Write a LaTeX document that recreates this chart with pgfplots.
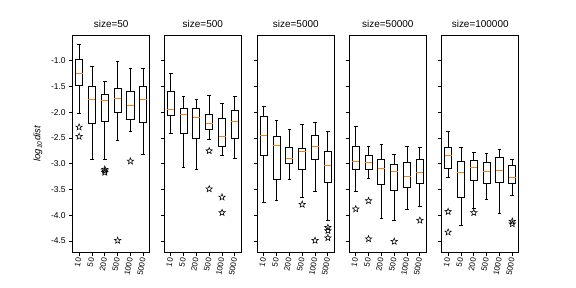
\documentclass[border=0pt]{standalone}
\usepackage{fontspec}
\setmainfont{Liberation Sans}
\usepackage{pgfplots}
\pgfplotsset{compat=1.18}
\usepgfplotslibrary{statistics}
\usetikzlibrary{plotmarks}
\definecolor{mplorange}{HTML}{FF7F0E}
\pgfdeclareplotmark{ostar}{%
  \pgfpathmoveto{\pgfpointpolar{90}{\pgfplotmarksize}}%
  \pgfpathlineto{\pgfpointpolar{126}{0.42\pgfplotmarksize}}%
  \pgfpathlineto{\pgfpointpolar{162}{\pgfplotmarksize}}%
  \pgfpathlineto{\pgfpointpolar{198}{0.42\pgfplotmarksize}}%
  \pgfpathlineto{\pgfpointpolar{234}{\pgfplotmarksize}}%
  \pgfpathlineto{\pgfpointpolar{270}{0.42\pgfplotmarksize}}%
  \pgfpathlineto{\pgfpointpolar{306}{\pgfplotmarksize}}%
  \pgfpathlineto{\pgfpointpolar{342}{0.42\pgfplotmarksize}}%
  \pgfpathlineto{\pgfpointpolar{18}{\pgfplotmarksize}}%
  \pgfpathlineto{\pgfpointpolar{54}{0.42\pgfplotmarksize}}%
  \pgfpathclose
  \pgfusepathqstroke}
\pgfplotsset{
  pan/.style={
    anchor=south west, width=77bp, height=217.3bp, scale only axis,
    xmin=0.5, xmax=6.5, ymin=-4.72, ymax=-0.50,
    xtick={1,2,3,4,5,6}, xticklabels={10,50,200,500,1000,5000},
    ytick={-4.5,-4,-3.5,-3,-2.5,-2,-1.5,-1},
    tick align=outside, xtick pos=bottom, ytick pos=left,
    major tick length=3.5bp,
    axis line style={line width=0.8bp},
    every tick/.style={black, line width=0.8bp},
    xticklabel style={rotate=80, anchor=east, font=\fontsize{8}{9}\selectfont, inner sep=2pt},
    yticklabel style={font=\fontsize{8.5}{10}\selectfont},
    /pgf/number format/assume math mode=true,
    /pgf/number format/fixed, /pgf/number format/fixed zerofill, /pgf/number format/precision=1,
    title style={font=\fontsize{10}{12}\selectfont, yshift=-2bp},
  },
  mybox/.style={black, line width=0.9bp, mark=ostar, mark size=3.4pt,
    mark options={solid, draw=black, line width=0.55bp},
    boxplot/draw direction=y,
    boxplot/box extend=0.55, boxplot/whisker extend=0.28,
    boxplot/every median/.style={draw=mplorange, line width=0.9bp}},
}
\newcommand{\bx}[6]{\addplot[mybox, boxplot prepared={draw position=#1, lower whisker=#2, lower quartile=#3, median=#4, upper quartile=#5, upper whisker=#6}]}
\begin{document}
\begin{tikzpicture}
\useasboundingbox (0bp,0bp) rectangle (576bp,288bp);
% panel 1
\begin{axis}[pan, at={(72.7bp,35.7bp)}, title={size=50},
  ylabel={\textit{log\textsubscript{10}dist}}, ylabel style={font=\fontsize{9.5}{11}\selectfont, yshift=2bp}]
\bx{1}{-2.03}{-1.48}{-1.24}{-0.97}{-0.68} coordinates {(1,-2.29) (1,-2.47)};
\bx{2}{-2.91}{-2.22}{-1.75}{-1.50}{-1.11} coordinates {};
\bx{3}{-2.91}{-2.17}{-1.77}{-1.66}{-1.41} coordinates {(3,-3.11) (3,-3.14) (3,-3.17)};
\bx{4}{-2.55}{-2.00}{-1.73}{-1.54}{-1.01} coordinates {(4,-4.49)};
\bx{5}{-2.38}{-2.14}{-1.87}{-1.60}{-1.15} coordinates {(5,-2.95)};
\bx{6}{-2.82}{-2.20}{-1.75}{-1.50}{-1.15} coordinates {};
\end{axis}
% panel 2
\begin{axis}[pan, at={(164.3bp,35.7bp)}, title={size=500}, yticklabels={}]
\bx{1}{-2.41}{-2.07}{-1.94}{-1.60}{-1.25} coordinates {};
\bx{2}{-3.07}{-2.41}{-2.04}{-1.92}{-1.70} coordinates {};
\bx{3}{-3.11}{-2.50}{-2.10}{-1.92}{-1.75} coordinates {};
\bx{4}{-2.53}{-2.33}{-2.22}{-2.04}{-1.68} coordinates {(4,-2.75) (4,-3.49)};
\bx{5}{-2.83}{-2.66}{-2.47}{-2.13}{-1.83} coordinates {(5,-3.65) (5,-3.95)};
\bx{6}{-2.89}{-2.50}{-2.18}{-1.96}{-1.70} coordinates {};
\end{axis}
% panel 3
\begin{axis}[pan, at={(257.3bp,35.7bp)}, title={size=5000}, yticklabels={}]
\bx{1}{-3.76}{-2.84}{-2.46}{-2.09}{-1.89} coordinates {};
\bx{2}{-3.71}{-3.30}{-2.64}{-2.47}{-2.16} coordinates {};
\bx{3}{-3.30}{-3.00}{-2.90}{-2.68}{-2.33} coordinates {};
\bx{4}{-3.65}{-3.12}{-2.77}{-2.71}{-2.24} coordinates {(4,-3.79)};
\bx{5}{-3.54}{-2.92}{-2.66}{-2.46}{-2.20} coordinates {(5,-4.49)};
\bx{6}{-4.10}{-3.36}{-3.04}{-2.77}{-2.38} coordinates {(6,-4.24) (6,-4.30) (6,-4.44)};
\end{axis}
% panel 4
\begin{axis}[pan, at={(349.3bp,35.7bp)}, title={size=50000}, yticklabels={}]
\bx{1}{-3.54}{-3.12}{-2.95}{-2.66}{-2.28} coordinates {(1,-3.88)};
\bx{2}{-3.28}{-3.12}{-2.97}{-2.84}{-2.66} coordinates {(2,-3.72) (2,-4.46)};
\bx{3}{-4.06}{-3.41}{-3.09}{-2.91}{-2.62} coordinates {};
\bx{4}{-4.11}{-3.52}{-3.15}{-3.01}{-2.82} coordinates {(4,-4.51)};
\bx{5}{-3.88}{-3.46}{-3.24}{-2.97}{-2.66} coordinates {};
\bx{6}{-3.83}{-3.38}{-3.17}{-2.91}{-2.68} coordinates {(6,-4.10)};
\end{axis}
% panel 5
\begin{axis}[pan, at={(441.7bp,35.7bp)}, title={size=100000}, yticklabels={}]
\bx{1}{-3.26}{-3.09}{-2.84}{-2.69}{-2.37} coordinates {(1,-3.93) (1,-4.33)};
\bx{2}{-4.20}{-3.65}{-3.17}{-2.95}{-2.68} coordinates {};
\bx{3}{-3.87}{-3.32}{-3.07}{-2.93}{-2.78} coordinates {(3,-3.95)};
\bx{4}{-3.69}{-3.39}{-3.15}{-2.97}{-2.80} coordinates {};
\bx{5}{-3.96}{-3.36}{-3.13}{-2.88}{-2.72} coordinates {};
\bx{6}{-3.61}{-3.38}{-3.26}{-3.04}{-2.91} coordinates {(6,-4.12) (6,-4.17)};
\end{axis}
\end{tikzpicture}
\end{document}
